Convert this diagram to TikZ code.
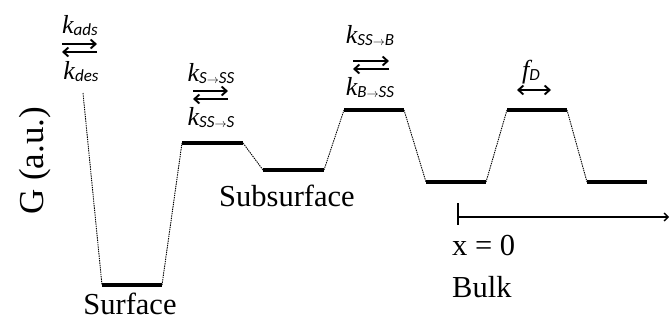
\documentclass[tikz,border=0pt]{standalone}
\usepackage{fontspec}
\setmainfont{Liberation Serif}
\newfontfamily\subfont{Carlito}
\usetikzlibrary{arrows.meta}
\newcommand{\kk}[2][k]{{\fontsize{26}{26}\selectfont\itshape #1}\raisebox{-0.45ex}{\fontsize{17}{17}\selectfont\subfont\itshape #2}}
\newcommand{\ar}{$\scriptstyle\rightarrow$}
\begin{document}
\begin{tikzpicture}[x=1pt,y=-1pt,
  level/.style={line width=3.2pt},
  trans/.style={line width=0.9pt,dash pattern=on 1.4pt off 0.9pt},
  lbl/.style={inner sep=0pt,font=\fontsize{30.5}{30.5}\selectfont},
  rate/.style={inner sep=0pt},
  eqarr/.style={line width=1.9pt,-{Straight Barb[length=5pt,width=9pt]}},
  axisline/.style={line width=1.4pt}]
\useasboundingbox (0,0) rectangle (670,322);
% energy levels
\coordinate (s1) at (102,285); \coordinate (s2) at (162,285);
\coordinate (b1a) at (182,143); \coordinate (b1b) at (243,143);
\coordinate (ss1) at (263,170); \coordinate (ss2) at (324,170);
\coordinate (b2a) at (344,110); \coordinate (b2b) at (404,110);
\coordinate (k1a) at (426,182); \coordinate (k1b) at (486,182);
\coordinate (b3a) at (507,110); \coordinate (b3b) at (567,110);
\coordinate (k2a) at (587,182); \coordinate (k2b) at (647,182);
\coordinate (top) at (83,93);
\draw[level] (s1) -- (s2);
\draw[level] (b1a) -- (b1b);
\draw[level] (ss1) -- (ss2);
\draw[level] (b2a) -- (b2b);
\draw[level] (k1a) -- (k1b);
\draw[level] (b3a) -- (b3b);
\draw[level] (k2a) -- (k2b);
\draw[trans] (top) -- (s1);
\draw[trans] (s2) -- (b1a);
\draw[trans] (b1b) -- (ss1);
\draw[trans] (ss2) -- (b2a);
\draw[trans] (b2b) -- (k1a);
\draw[trans] (k1b) -- (b3a);
\draw[trans] (b3b) -- (k2a);
% labels
\node[lbl] (surf) at (130,304) {Surface};
\node[lbl] (subs) at (287,196) {Subsurface};
\node[lbl,anchor=west] (x0) at (452,246) {x = 0};
\node[lbl,anchor=west] (bulk) at (452,287) {Bulk};
\node[lbl,font=\fontsize{35}{35}\selectfont,rotate=90] (G) at (35,161) {G (a.u.)};
% axis
\coordinate (ax0) at (458,217);
\coordinate (axend) at (669,217);
\coordinate (tk1) at (458,203); \coordinate (tk2) at (458,225);
\draw[axisline] (tk1) -- (tk2);
\draw[axisline,-{Straight Barb[length=4pt,width=8pt]}] (ax0) -- (axend);
% rate labels
\node[rate] (kads) at (80,26) {\kk{ads}};
\node[rate] (kdes) at (81,72) {\kk{des}};
\coordinate (a1l) at (62,44); \coordinate (a1r) at (97,44);
\coordinate (a2l) at (62,52); \coordinate (a2r) at (97,52);
\draw[eqarr] (a1l) -- (a1r);
\draw[eqarr] (a2r) -- (a2l);
\node[rate] (kssf) at (211,74) {\kk{S\ar SS}};
\node[rate] (kssb) at (211,118) {\kk{SS\ar S}};
\coordinate (c1l) at (193,91); \coordinate (c1r) at (228,91);
\coordinate (c2l) at (193,99); \coordinate (c2r) at (228,99);
\draw[eqarr] (c1l) -- (c1r);
\draw[eqarr] (c2r) -- (c2l);
\node[rate] (kbf) at (370,36) {\kk{SS\ar B}};
\node[rate] (kbb) at (370,88) {\kk{B\ar SS}};
\coordinate (d1l) at (353,61); \coordinate (d1r) at (389,61);
\coordinate (d2l) at (353,69); \coordinate (d2r) at (389,69);
\draw[eqarr] (d1l) -- (d1r);
\draw[eqarr] (d2r) -- (d2l);
\node[rate] (fd) at (531,72) {\kk[f]{D}};
\coordinate (f1) at (517,90); \coordinate (f2) at (551,90);
\draw[line width=1.9pt,{Straight Barb[length=5pt,width=9pt]}-{Straight Barb[length=5pt,width=9pt]}] (f1) -- (f2);
\end{tikzpicture}
\end{document}
